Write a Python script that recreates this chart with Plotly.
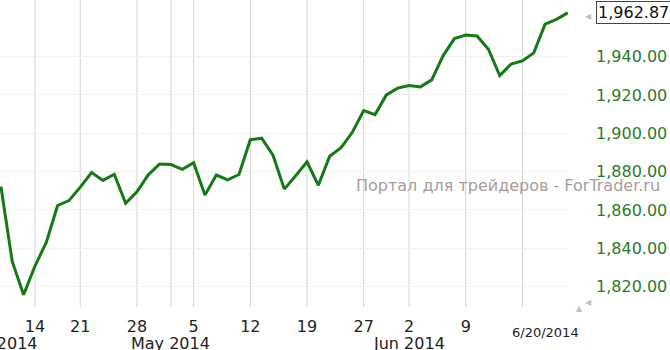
import plotly.graph_objects as go

# Trading days (S&P 500 closes), Apr 9 2014 - Jun 20 2014
dates = ["2014-04-09","2014-04-10","2014-04-11","2014-04-14","2014-04-15","2014-04-16","2014-04-17",
         "2014-04-21","2014-04-22","2014-04-23","2014-04-24","2014-04-25",
         "2014-04-28","2014-04-29","2014-04-30","2014-05-01","2014-05-02",
         "2014-05-05","2014-05-06","2014-05-07","2014-05-08","2014-05-09",
         "2014-05-12","2014-05-13","2014-05-14","2014-05-15","2014-05-16",
         "2014-05-19","2014-05-20","2014-05-21","2014-05-22","2014-05-23",
         "2014-05-27","2014-05-28","2014-05-29","2014-05-30",
         "2014-06-02","2014-06-03","2014-06-04","2014-06-05","2014-06-06",
         "2014-06-09","2014-06-10","2014-06-11","2014-06-12","2014-06-13",
         "2014-06-16","2014-06-17","2014-06-18","2014-06-19","2014-06-20"]
closes = [1872.18, 1833.08, 1815.69, 1830.61, 1842.98, 1862.31, 1864.85,
          1871.89, 1879.55, 1875.39, 1878.61, 1863.40,
          1869.43, 1878.33, 1883.95, 1883.68, 1881.14,
          1884.66, 1867.72, 1878.21, 1875.63, 1878.48,
          1896.65, 1897.45, 1888.53, 1870.85, 1877.86,
          1885.08, 1872.83, 1888.03, 1892.49, 1900.53,
          1911.91, 1909.78, 1920.03, 1923.57,
          1924.97, 1924.24, 1927.88, 1940.46, 1949.44,
          1951.27, 1950.79, 1943.89, 1930.11, 1936.16,
          1937.78, 1941.99, 1956.98, 1959.48, 1962.87]

x_tick_dates = ["2014-04-14","2014-04-21","2014-04-28","2014-05-05","2014-05-12",
                "2014-05-19","2014-05-27","2014-06-02","2014-06-09"]
x_tick_labels = ["14","21","28","5","12","19","27","2","9"]
grid_dates = ["2014-04-14","2014-04-21","2014-04-28","2014-05-01","2014-05-05","2014-05-12",
              "2014-05-19","2014-05-27","2014-06-02","2014-06-09","2014-06-16"]
month_dates = ["2014-04-09","2014-05-01","2014-06-02"]
month_labels = ["Apr 2014","May 2014","Jun 2014"]
y_ticks = [1820, 1840, 1860, 1880, 1900, 1920, 1940]
last_label = "1,962.87"
date_label = "6/20/2014"
watermark = "Портал для трейдеров - ForTrader.ru"

idx = list(range(len(dates)))
pos = {d: i for i, d in enumerate(dates)}

FONT = "DejaVu Sans"
fig = go.Figure()
fig.add_trace(go.Scatter(x=idx, y=closes, mode="lines",
                         line=dict(color="#187818", width=3), hoverinfo="skip"))

W, H = 670, 350
ml, mr, mt, mb = 0, 102, 0, 43
pw, ph = W - ml - mr, H - mt - mb

def px(xp):
    return (xp - ml) / pw

def py(yp):
    return (H - mb - yp) / ph

shapes = []
for d in grid_dates:
    shapes.append(dict(type="line", xref="x", yref="paper", x0=pos[d], x1=pos[d], y0=0, y1=1,
                       line=dict(color="#d4d4d4", width=1), layer="below"))

annotations = []
for d, lab in zip(month_dates, month_labels):
    annotations.append(dict(x=pos[d], y=py(343), xref="x", yref="paper", text=lab,
                            showarrow=False, xanchor="center", yanchor="middle",
                            font=dict(family=FONT, size=16, color="#222222")))
annotations.append(dict(x=px(545), y=py(332), xref="paper", yref="paper", text=date_label,
                        showarrow=False, xanchor="center", yanchor="middle",
                        font=dict(family=FONT, size=13, color="#222222")))
annotations.append(dict(x=px(596), y=closes[-1], xref="paper", yref="y", text=last_label,
                        showarrow=False, xanchor="left", yanchor="middle",
                        bordercolor="#444444", borderwidth=1, borderpad=1, bgcolor="#ffffff",
                        font=dict(family=FONT, size=16, color="#111111")))
annotations.append(dict(x=px(508), y=py(185), xref="paper", yref="paper", text=watermark,
                        showarrow=False, xanchor="center", yanchor="middle",
                        font=dict(family=FONT, size=16, color="#a89c9c")))
for (xx, yy, ch) in [(588, 16, "◀"), (588, 302, "◀"), (579, 308, "▲")]:
    annotations.append(dict(x=px(xx), y=py(yy), xref="paper", yref="paper", text=ch,
                            showarrow=False, xanchor="center", yanchor="middle",
                            font=dict(family=FONT, size=8, color="#c0c0c0")))

fig.update_layout(
    width=W, height=H,
    margin=dict(l=ml, r=mr, t=mt, b=mb, pad=0),
    paper_bgcolor="#ffffff", plot_bgcolor="#ffffff",
    showlegend=False,
    shapes=shapes, annotations=annotations,
    xaxis=dict(range=[-0.08, 50.02], tickmode="array",
               tickvals=[pos[d] for d in x_tick_dates], ticktext=x_tick_labels,
               showgrid=False, zeroline=False, showline=False, ticks="",
               tickfont=dict(family=FONT, size=16, color="#222222"),
               ticklabelstandoff=8, fixedrange=True),
    yaxis=dict(side="right", range=[1809.3, 1969.6], tickmode="array",
               tickvals=y_ticks, ticktext=[f"{v:,.2f}" for v in y_ticks],
               showgrid=True, gridcolor="#f1f1f1", gridwidth=1,
               zeroline=False, showline=False, ticks="",
               tickfont=dict(family=FONT, size=16, color="#2b7a2b"),
               ticklabelstandoff=27, fixedrange=True),
)

fig.write_html("out.html", config={"displayModeBar": False})
